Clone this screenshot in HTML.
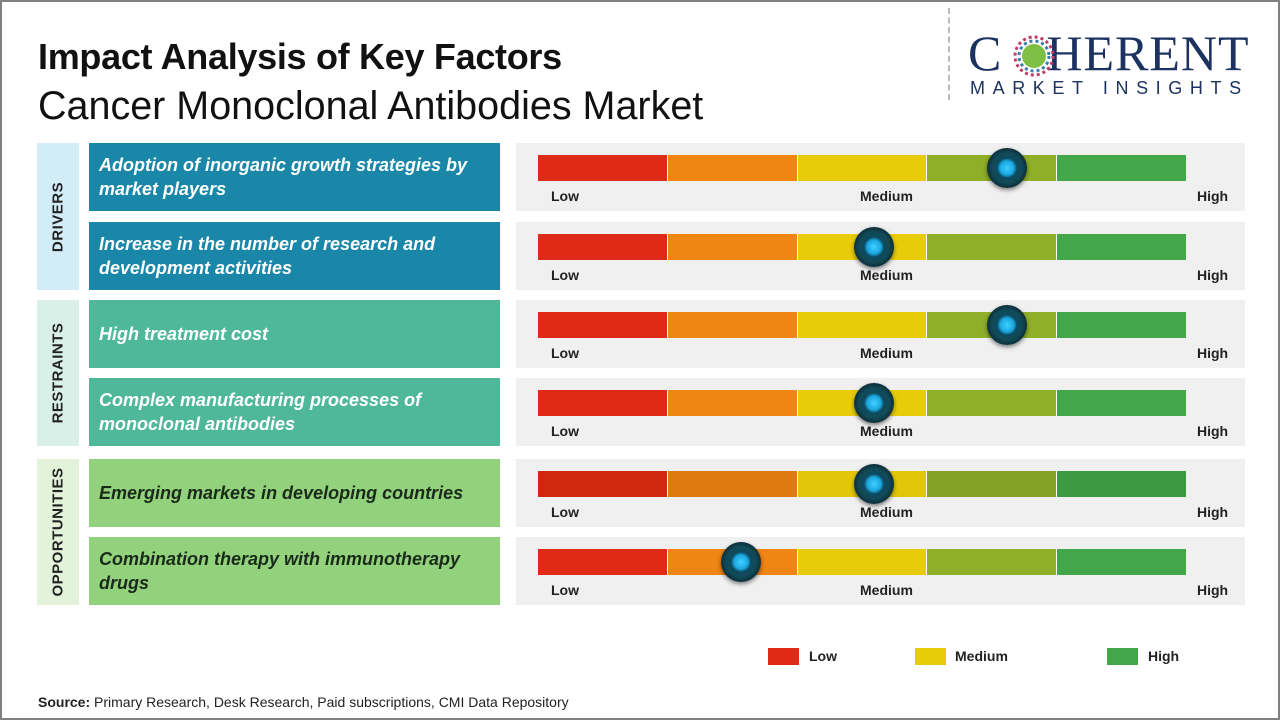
<!DOCTYPE html>
<html><head><meta charset="utf-8"><style>
*{margin:0;padding:0;box-sizing:border-box}
body{width:1280px;height:720px;position:relative;background:#fff;font-family:"Liberation Sans",sans-serif;overflow:hidden}
.frame{position:absolute;left:0;top:0;width:1280px;height:720px;border:2px solid #808080}
.a{position:absolute}
.t1{left:38px;top:36px;font-size:36px;font-weight:bold;color:#111;letter-spacing:-0.3px}
.t2{left:38px;top:84px;font-size:39.5px;color:#111}
.cat{position:absolute;left:37px;width:42px}
.cat span{position:absolute;left:50%;top:50%;transform:translate(-50%,-50%) rotate(-90deg);font-weight:bold;font-size:15px;color:#222;white-space:nowrap;letter-spacing:0.5px}
.lb{position:absolute;left:89px;width:411px;height:68px;color:#fff;font-style:italic;font-weight:bold;font-size:18px;line-height:24px;padding-left:10px;display:flex;align-items:center}
.pn{position:absolute;left:516px;width:729px;height:68px;background:#f0f0f0}
.bar{position:absolute;left:22px;top:12px;height:26px;width:648px;display:flex}
.bar div{flex:1;border-right:1px solid #fff}
.l{position:absolute;top:45px;font-size:14px;font-weight:bold;color:#222}
.m{position:absolute;width:40px;height:40px;border-radius:50%;top:5px;margin-left:-20px;background:radial-gradient(circle at 50% 50%,#3fd0ff 0,#1aa6e0 7px,#0d4a60 10px,#124a57 15px,#0b2e38 20px);box-shadow:0 2px 4px rgba(0,0,0,.5)}
.lg{position:absolute;top:648px;width:31px;height:17px}
.lt{position:absolute;top:648px;font-size:14px;font-weight:bold;color:#222}
</style></head><body>
<div class="frame"></div>
<div class="a t1">Impact Analysis of Key Factors</div>
<div class="a t2">Cancer Monoclonal Antibodies Market</div>
<div class="a" style="left:948px;top:8px;height:92px;border-left:2px dashed #bbb"></div>
<div class="a" style="left:968px;top:28px;font-family:'Liberation Serif',serif;font-size:50px;color:#1c3361;letter-spacing:1px;line-height:50px">C<span style="display:inline-block;width:44px"></span>HERENT</div>
<svg class="a" style="left:1012px;top:34px" width="44" height="44"><g>
<circle cx="22" cy="22" r="19" fill="none" stroke="#c23b6a" stroke-width="3" stroke-dasharray="3 3"/>
<circle cx="22" cy="22" r="12" fill="#7fbf44"/><circle cx="22" cy="22" r="15" fill="none" stroke="#3c7fa6" stroke-width="3" stroke-dasharray="3 3"/></g></svg>
<div class="a" style="left:970px;top:78px;font-size:18px;color:#1c3361;letter-spacing:7.6px">MARKET INSIGHTS</div>

<div class="cat" style="top:143px;height:147px;background:#d3edf8"><span>DRIVERS</span></div>
<div class="cat" style="top:300px;height:146px;background:#d9f0e8"><span>RESTRAINTS</span></div>
<div class="cat" style="top:459px;height:146px;background:#e2f3da"><span>OPPORTUNITIES</span></div>

<div class="lb" style="top:143px;background:#1a87a8">Adoption of inorganic growth strategies by<br>market players</div>
<div class="lb" style="top:222px;background:#1a87a8">Increase in the number of research and<br>development activities</div>
<div class="lb" style="top:300px;background:#4fb89a">High treatment cost</div>
<div class="lb" style="top:378px;background:#4fb89a">Complex manufacturing processes of<br>monoclonal antibodies</div>
<div class="lb" style="top:459px;background:#92d27c;color:#1a2a1a">Emerging markets in developing countries</div>
<div class="lb" style="top:537px;background:#92d27c;color:#1a2a1a">Combination therapy with immunotherapy<br>drugs</div>

<div class="pn" style="top:143px"><div class="bar"><div style="background:#df2a18"></div><div style="background:#ef8512"></div><div style="background:#e8cc0a"></div><div style="background:#8faf28"></div><div style="background:#43a648;border:0"></div></div><span class="l" style="left:35px">Low</span><span class="l" style="left:344px">Medium</span><span class="l" style="left:681px">High</span><div class="m" style="left:491px"></div></div>
<div class="pn" style="top:222px"><div class="bar"><div style="background:#df2a18"></div><div style="background:#ef8512"></div><div style="background:#e8cc0a"></div><div style="background:#8faf28"></div><div style="background:#43a648;border:0"></div></div><span class="l" style="left:35px">Low</span><span class="l" style="left:344px">Medium</span><span class="l" style="left:681px">High</span><div class="m" style="left:358px"></div></div>
<div class="pn" style="top:300px"><div class="bar"><div style="background:#df2a18"></div><div style="background:#ef8512"></div><div style="background:#e8cc0a"></div><div style="background:#8faf28"></div><div style="background:#43a648;border:0"></div></div><span class="l" style="left:35px">Low</span><span class="l" style="left:344px">Medium</span><span class="l" style="left:681px">High</span><div class="m" style="left:491px"></div></div>
<div class="pn" style="top:378px"><div class="bar"><div style="background:#df2a18"></div><div style="background:#ef8512"></div><div style="background:#e8cc0a"></div><div style="background:#8faf28"></div><div style="background:#43a648;border:0"></div></div><span class="l" style="left:35px">Low</span><span class="l" style="left:344px">Medium</span><span class="l" style="left:681px">High</span><div class="m" style="left:358px"></div></div>
<div class="pn" style="top:459px"><div class="bar"><div style="background:#d0280f"></div><div style="background:#de7a10"></div><div style="background:#e2c60a"></div><div style="background:#84a326"></div><div style="background:#3d9a42;border:0"></div></div><span class="l" style="left:35px">Low</span><span class="l" style="left:344px">Medium</span><span class="l" style="left:681px">High</span><div class="m" style="left:358px"></div></div>
<div class="pn" style="top:537px"><div class="bar"><div style="background:#df2a18"></div><div style="background:#ef8512"></div><div style="background:#e8cc0a"></div><div style="background:#8faf28"></div><div style="background:#43a648;border:0"></div></div><span class="l" style="left:35px">Low</span><span class="l" style="left:344px">Medium</span><span class="l" style="left:681px">High</span><div class="m" style="left:225px"></div></div>

<div class="lg" style="left:768px;background:#df2a18"></div><div class="lt" style="left:809px">Low</div>
<div class="lg" style="left:915px;background:#e8cc0a"></div><div class="lt" style="left:955px">Medium</div>
<div class="lg" style="left:1107px;background:#43a648"></div><div class="lt" style="left:1148px">High</div>

<div class="a" style="left:38px;top:694px;font-size:14px;color:#222"><b>Source:</b> Primary Research, Desk Research, Paid subscriptions, CMI Data Repository</div>
</body></html>
